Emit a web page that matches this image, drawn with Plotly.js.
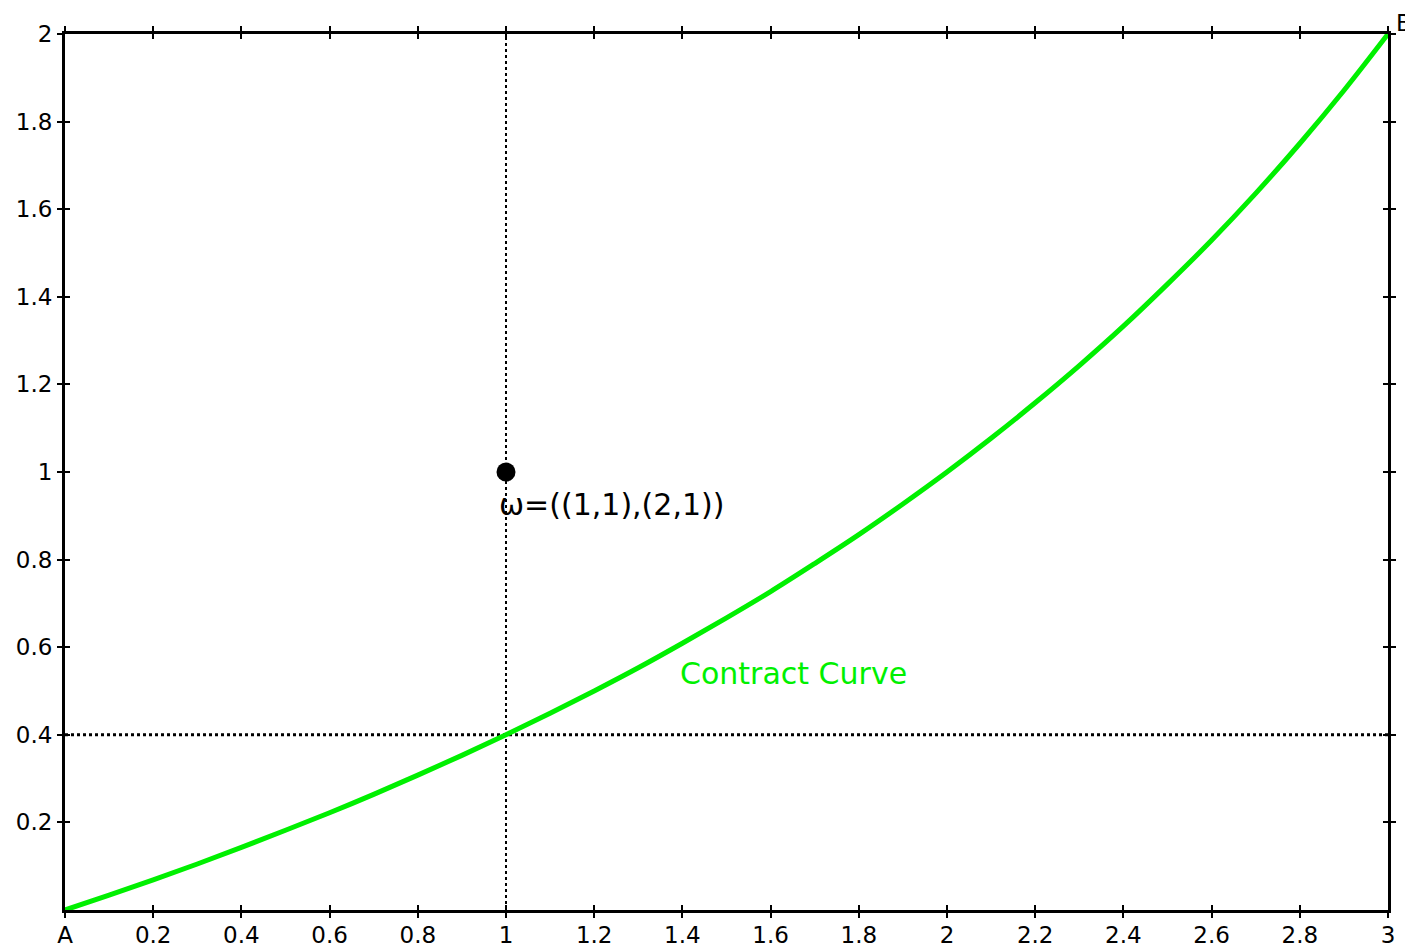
<!DOCTYPE html>
<html>
<head>
<meta charset="utf-8">
<script src="https://cdn.plot.ly/plotly-3.0.1.min.js"></script>
<style>html,body{margin:0;padding:0;background:#fff;}#chart{width:1405px;height:944px;}</style>
</head>
<body>
<div id="chart"></div>
<script>
// Contract curve readings
var curveX = [0,0.1,0.2,0.3,0.4,0.5,0.6,0.7,0.8,0.9,1.0,1.1,1.2,1.3,1.4,1.5,1.6,1.7,1.8,1.9,2.0,2.1,2.2,2.3,2.4,2.5,2.6,2.7,2.8,2.9,3.0];
var curveY = [0,0.034,0.069,0.105,0.143,0.182,0.222,0.264,0.308,0.353,0.40,0.449,0.50,0.553,0.609,0.667,0.727,0.791,0.857,0.927,1.0,1.077,1.158,1.243,1.333,1.429,1.529,1.636,1.75,1.871,2.0];
// Endowment point
var endowX = [1];
var endowY = [1];
// Guide lines
var vGuideX = [1, 1];
var vGuideY = [0, 2];
var hGuideX = [0, 3];
var hGuideY = [0.4, 0.4];
// Ticks
var xTickVals = [0,0.2,0.4,0.6,0.8,1,1.2,1.4,1.6,1.8,2,2.2,2.4,2.6,2.8,3];
var xTickText = ['A','0.2','0.4','0.6','0.8','1','1.2','1.4','1.6','1.8','2','2.2','2.4','2.6','2.8','3'];
var yTickVals = [0.2,0.4,0.6,0.8,1,1.2,1.4,1.6,1.8,2];
var yTickText = ['0.2','0.4','0.6','0.8','1','1.2','1.4','1.6','1.8','2'];

var traces = [
  {x: vGuideX, y: vGuideY, mode: 'lines', line: {color: '#000', width: 2, dash: 'dot'}, hoverinfo: 'skip', showlegend: false},
  {x: hGuideX, y: hGuideY, mode: 'lines', line: {color: '#000', width: 3, dash: 'dot'}, hoverinfo: 'skip', showlegend: false},
  {x: curveX, y: curveY, mode: 'lines', line: {color: '#00f000', width: 5, shape: 'spline'}, showlegend: false, cliponaxis: false},
  {x: endowX, y: endowY, mode: 'markers', marker: {color: '#000', size: 19}, showlegend: false, cliponaxis: false}
];

var font = {family: 'DejaVu Sans, sans-serif', size: 23, color: '#000'};
var layout = {
  width: 1405, height: 944,
  margin: {l: 65, r: 17, t: 34, b: 34},
  paper_bgcolor: '#fff', plot_bgcolor: '#fff',
  font: font,
  showlegend: false,
  xaxis: {range: [0, 3], tickvals: xTickVals, ticktext: xTickText, ticks: 'outside', ticklen: 5, tickwidth: 2, tickcolor: '#000',
          showline: true, linewidth: 3, linecolor: '#000', mirror: 'allticks', showgrid: false, zeroline: false, fixedrange: true,
          tickfont: font, ticklabelstandoff: -3},
  yaxis: {range: [0, 2], tickvals: yTickVals, ticktext: yTickText, ticks: 'outside', ticklen: 5, tickwidth: 2, tickcolor: '#000',
          showline: true, linewidth: 3, linecolor: '#000', mirror: 'allticks', showgrid: false, zeroline: false, fixedrange: true,
          tickfont: font, ticklabelstandoff: 0},
  xaxis2: {range: [0, 3], overlaying: 'x', tickvals: xTickVals, ticks: 'inside', ticklen: 5, tickwidth: 2, tickcolor: '#000',
           mirror: 'allticks', showline: false, showticklabels: false, showgrid: false, zeroline: false},
  yaxis2: {range: [0, 2], overlaying: 'y', tickvals: yTickVals, ticks: 'inside', ticklen: 5, tickwidth: 2, tickcolor: '#000',
           mirror: 'allticks', showline: false, showticklabels: false, showgrid: false, zeroline: false},
  annotations: [
    {x: 0.98, y: 0.925, xref: 'x', yref: 'y', text: 'ω=((1,1),(2,1))', showarrow: false, xanchor: 'left', yanchor: 'middle',
     font: {family: 'DejaVu Sans, sans-serif', size: 30, color: '#000'}},
    {x: 1.39, y: 0.54, xref: 'x', yref: 'y', text: 'Contract Curve', showarrow: false, xanchor: 'left', yanchor: 'middle',
     font: {family: 'DejaVu Sans, sans-serif', size: 30, color: '#00f000'}},
    {x: 3, y: 2, xref: 'x', yref: 'y', text: 'B', showarrow: false, xanchor: 'left', yanchor: 'bottom', xshift: 6, yshift: -4,
     font: {family: 'DejaVu Sans, sans-serif', size: 23, color: '#000'}}
  ]
};
// dummy trace to activate overlay axes
traces.push({x: [0], y: [0], xaxis: 'x2', yaxis: 'y2', mode: 'markers', marker: {opacity: 0}, hoverinfo: 'skip', showlegend: false});

Plotly.newPlot('chart', traces, layout, {displayModeBar: false, staticPlot: true});
</script>
</body>
</html>
